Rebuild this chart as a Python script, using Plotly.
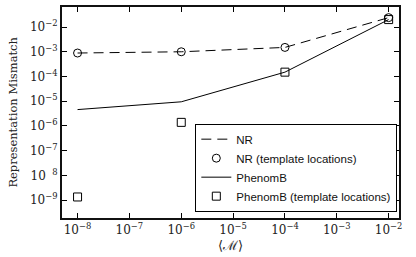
import plotly.graph_objects as go

x_vals = [1e-8, 1e-6, 1e-4, 1e-2]
nr_line = [8.9e-4, 1.0e-3, 1.5e-3, 2.4e-2]
nr_markers = [8.9e-4, 1.0e-3, 1.5e-3, 2.4e-2]
phenomb_line = [4.6e-6, 9.5e-6, 1.5e-4, 2.0e-2]
phenomb_markers = [1.35e-9, 1.4e-6, 1.5e-4, 2.0e-2]

x_tickvals = [1e-8, 1e-7, 1e-6, 1e-5, 1e-4, 1e-3, 1e-2]
x_ticktext = ["10<sup>−8</sup>", "10<sup>−7</sup>", "10<sup>−6</sup>", "10<sup>−5</sup>",
              "10<sup>−4</sup>", "10<sup>−3</sup>", "10<sup>−2</sup>"]
y_tickvals = [1e-9, 1e-8, 1e-7, 1e-6, 1e-5, 1e-4, 1e-3, 1e-2]
y_ticktext = ["10<sup>−9</sup>", "10 <sup> 8</sup>", "10<sup>−7</sup>", "10<sup>−6</sup>",
              "10<sup>−5</sup>", "10<sup>−4</sup>", "10<sup>−3</sup>", "10<sup>−2</sup>"]

fig = go.Figure()
fig.add_trace(go.Scatter(x=x_vals, y=nr_line, mode="lines", name="NR",
                         line=dict(color="black", width=1, dash="10px,6px")))
fig.add_trace(go.Scatter(x=x_vals, y=nr_markers, mode="markers", name="NR (template locations)",
                         marker=dict(symbol="circle-open", size=8, color="black", line=dict(width=1))))
fig.add_trace(go.Scatter(x=x_vals, y=phenomb_line, mode="lines", name="PhenomB",
                         line=dict(color="black", width=1)))
fig.add_trace(go.Scatter(x=x_vals, y=phenomb_markers, mode="markers", name="PhenomB (template locations)",
                         marker=dict(symbol="square-open", size=8, color="black", line=dict(width=1))))

axis_common = dict(showgrid=False, zeroline=False, ticks="inside", ticklen=5, tickcolor="black",
                   mirror="allticks", showline=True, linecolor="#111", linewidth=2, automargin=False,
                   tickfont=dict(family="DejaVu Serif", size=12, color="#222"))
fig.update_xaxes(type="log", range=[-8.30, -1.80], tickvals=x_tickvals, ticktext=x_ticktext,
                 **axis_common)
fig.update_yaxes(type="log", range=[-9.72, -1.19], tickvals=y_tickvals, ticktext=y_ticktext,
                 **axis_common)

fig.update_layout(
    width=416, height=257,
    margin=dict(l=62, r=17, t=7, b=39),
    plot_bgcolor="white", paper_bgcolor="white",
    showlegend=True,
    legend=dict(x=0.995, y=0.03, xanchor="right", yanchor="bottom",
                bgcolor="white", bordercolor="black", borderwidth=1,
                font=dict(family="Liberation Sans", size=11.5, color="#111"),
                tracegroupgap=0, itemwidth=30),
    annotations=[
        dict(text="⟨ℳ⟩", xref="paper", yref="paper", x=0.5, y=-0.128,
             xanchor="center", yanchor="middle", showarrow=False,
             font=dict(family="DejaVu Serif", size=13, color="#222")),
        dict(text="Representation Mismatch", xref="paper", yref="paper", x=-0.148, y=0.5,
             xanchor="center", yanchor="middle", textangle=-90, showarrow=False,
             font=dict(family="DejaVu Serif", size=11.5, color="#222")),
    ],
)
fig.write_html("out.html", config={"displayModeBar": False},
               post_script="document.body.style.margin='0';document.body.style.overflow='hidden';")
